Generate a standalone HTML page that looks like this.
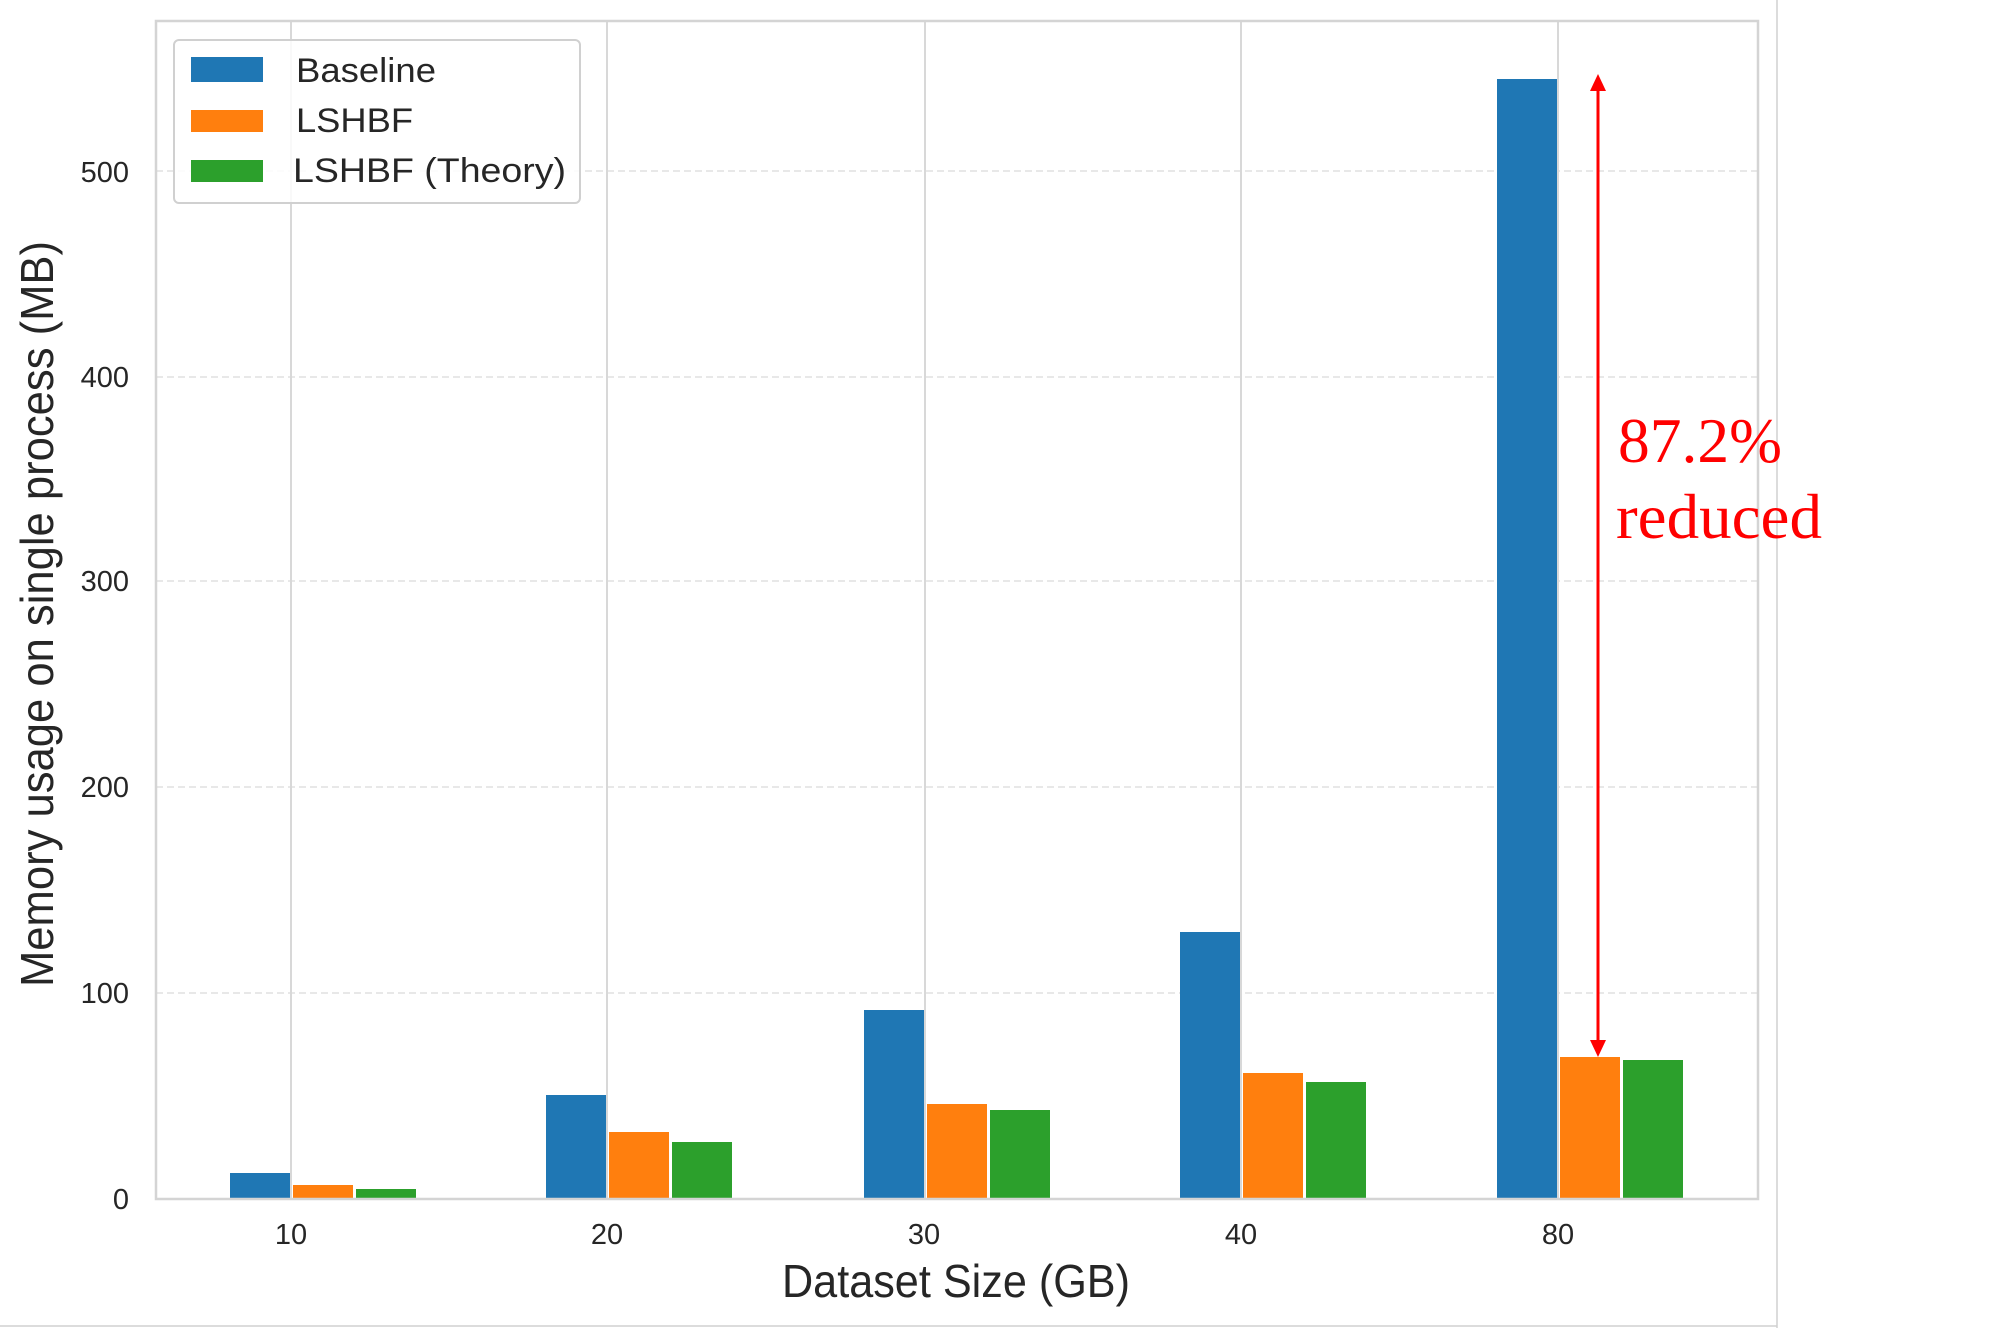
<!DOCTYPE html>
<html><head><meta charset="utf-8"><style>html,body{margin:0;padding:0;background:#fff}svg{display:block}</style></head>
<body>
<svg width="1999" height="1328" viewBox="0 0 1999 1328" xmlns="http://www.w3.org/2000/svg" font-family="Liberation Sans, sans-serif">
<rect width="1999" height="1328" fill="#fff"/>
<g stroke="#e0e0e0" stroke-width="1.5" stroke-dasharray="7,4">
<line x1="156" x2="1758" y1="993" y2="993"/>
<line x1="156" x2="1758" y1="787" y2="787"/>
<line x1="156" x2="1758" y1="581" y2="581"/>
<line x1="156" x2="1758" y1="377" y2="377"/>
<line x1="156" x2="1758" y1="171" y2="171"/>
</g>
<g stroke="#d8d8d8" stroke-width="2">
<line x1="291" x2="291" y1="21" y2="1199"/>
<line x1="607" x2="607" y1="21" y2="1199"/>
<line x1="925" x2="925" y1="21" y2="1199"/>
<line x1="1241" x2="1241" y1="21" y2="1199"/>
<line x1="1558" x2="1558" y1="21" y2="1199"/>
</g>
<g>
<rect x="230" y="1173" width="60" height="26" fill="#1f77b4"/>
<rect x="293" y="1185" width="60" height="14" fill="#ff7f0e"/>
<rect x="356" y="1189" width="60" height="10" fill="#2ca02c"/>

<rect x="546" y="1095" width="60" height="104" fill="#1f77b4"/>
<rect x="609" y="1132" width="60" height="67" fill="#ff7f0e"/>
<rect x="672" y="1142" width="60" height="57" fill="#2ca02c"/>

<rect x="864" y="1010" width="60" height="189" fill="#1f77b4"/>
<rect x="927" y="1104" width="60" height="95" fill="#ff7f0e"/>
<rect x="990" y="1110" width="60" height="89" fill="#2ca02c"/>

<rect x="1180" y="932" width="60" height="267" fill="#1f77b4"/>
<rect x="1243" y="1073" width="60" height="126" fill="#ff7f0e"/>
<rect x="1306" y="1082" width="60" height="117" fill="#2ca02c"/>

<rect x="1497" y="79" width="60" height="1120" fill="#1f77b4"/>
<rect x="1560" y="1057" width="60" height="142" fill="#ff7f0e"/>
<rect x="1623" y="1060" width="60" height="139" fill="#2ca02c"/>
</g>
<rect x="156" y="21" width="1602" height="1178" fill="none" stroke="#d4d4d4" stroke-width="2.5"/>
<line x1="1777" x2="1777" y1="0" y2="1328" stroke="#d0d0d0" stroke-width="1.5"/>
<line x1="0" x2="1777" y1="1326" y2="1326" stroke="#d0d0d0" stroke-width="1.5"/>
<g font-size="29" fill="#262626" text-anchor="end">
<text x="129" y="1209">0</text>
<text x="129" y="1003">100</text>
<text x="129" y="797">200</text>
<text x="129" y="591">300</text>
<text x="129" y="387">400</text>
<text x="129" y="182">500</text>
</g>
<g font-size="29" fill="#262626" text-anchor="middle">
<text x="291" y="1244">10</text>
<text x="607" y="1244">20</text>
<text x="924" y="1244">30</text>
<text x="1241" y="1244">40</text>
<text x="1558" y="1244">80</text>
</g>
<text x="956" y="1297" font-size="46" fill="#262626" text-anchor="middle" textLength="348" lengthAdjust="spacingAndGlyphs">Dataset Size (GB)</text>
<text transform="translate(53,987) rotate(-90)" font-size="46" fill="#262626" textLength="746" lengthAdjust="spacingAndGlyphs">Memory usage on single process (MB)</text>
<rect x="174" y="40" width="406" height="163" rx="5" fill="#fff" fill-opacity="0.85" stroke="#d0d0d0" stroke-width="2"/>
<rect x="191" y="57" width="72" height="25" fill="#1f77b4"/>
<rect x="191" y="110" width="72" height="22" fill="#ff7f0e"/>
<rect x="191" y="160" width="72" height="22" fill="#2ca02c"/>
<g font-size="34" fill="#262626">
<text x="296" y="82" textLength="140" lengthAdjust="spacingAndGlyphs">Baseline</text>
<text x="296" y="132" textLength="117" lengthAdjust="spacingAndGlyphs">LSHBF</text>
<text x="293" y="182" textLength="273" lengthAdjust="spacingAndGlyphs">LSHBF (Theory)</text>
</g>
<line x1="1598" x2="1598" y1="88" y2="1042" stroke="#ff0000" stroke-width="3"/>
<polygon points="1598,74 1590,91 1606,91" fill="#ff0000"/>
<polygon points="1598,1057 1590,1040 1606,1040" fill="#ff0000"/>
<g font-family="Liberation Serif, serif" font-size="63" fill="#ff0000">
<text x="1618" y="462" textLength="164" lengthAdjust="spacingAndGlyphs">87.2%</text>
<text x="1616" y="538" textLength="206" lengthAdjust="spacingAndGlyphs">reduced</text>
</g>
</svg>
</body></html>
